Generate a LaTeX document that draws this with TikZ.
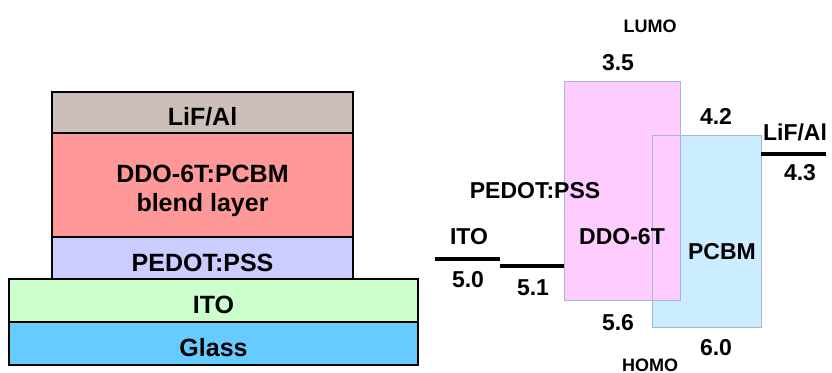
\documentclass[tikz,border=0pt]{standalone}
\usepackage{fontspec}
\setmainfont{Liberation Sans}
\usetikzlibrary{positioning}
\definecolor{lifgray}{RGB}{204,191,186}
\definecolor{blendred}{RGB}{255,153,153}
\definecolor{pedotblue}{RGB}{204,204,255}
\definecolor{itogreen}{RGB}{204,255,204}
\definecolor{glassblue}{RGB}{102,204,255}
\definecolor{ddopink}{RGB}{255,204,255}
\definecolor{pcbmblue}{RGB}{204,236,255}
\definecolor{bandedge}{RGB}{160,185,215}
\tikzset{
  layer/.style={draw=black,line width=1.5pt,fill=#1,inner sep=0pt,outer sep=0pt,
    minimum width=301pt,align=center,font=\fontsize{25}{29}\selectfont\bfseries,
    execute at begin node={\rule{0pt}{27pt}}},
  band/.style={draw=bandedge,line width=1pt,fill=#1,inner sep=0pt,outer sep=0pt},
  level/.style={line width=4pt},
  lbl/.style={font=\fontsize{23}{27}\selectfont\bfseries},
  orb/.style={font=\fontsize{18}{21}\selectfont\bfseries},
}

\begin{document}
\begin{tikzpicture}[x=1pt,y=-1pt]
  \useasboundingbox (0,0) rectangle (832,372);
  % device stack
  \node[layer=lifgray,minimum height=41pt] (lif) at (202.5,112.5) {LiF/Al};
  \node[layer=blendred,minimum height=104pt,below=0pt of lif,execute at begin node={}] (blend)
    {\raisebox{-6pt}[\height][\depth]{\begin{tabular}{@{}c@{}}DDO-6T:PCBM\\blend layer\end{tabular}}};
  \node[layer=pedotblue,minimum height=42pt,below=0pt of blend] (pedot) {PEDOT:PSS};
  \node[layer=itogreen,minimum width=409pt,minimum height=43pt,anchor=north] (ito) at (213.5,279) {ITO};
  \node[layer=glassblue,minimum width=409pt,minimum height=43pt,below=0pt of ito] (glass) {Glass};

  % energy levels
  \node[band=pcbmblue,minimum width=109pt,minimum height=192pt] (pcbm) at (706.5,231) {};
  \node[band=ddopink,minimum width=116pt,minimum height=219pt] (ddo) at (622,190.5) {};
  \draw[bandedge,line width=1pt] (pcbm.north west) rectangle (pcbm.south east);
  \node[lbl] (ddolbl) at (622,237) {DDO-6T};
  \node[lbl] (pcbmlbl) at (722,252) {PCBM};

  \coordinate (itoL) at (435,259);
  \coordinate (itoR) at (500,259);
  \coordinate (pedL) at (500,266);
  \coordinate (lifR) at (826,154);
  \draw[level] (itoL) -- (itoR);
  \draw[level] (pedL) -- (pedL -| ddo.west);
  \draw[level] (lifR -| pcbm.east) -- (lifR);

  \node[orb] (lumo) at (650,26) {LUMO};
  \node[orb] (homo) at (650,365) {HOMO};
  \node[lbl] (e35) at (618,63) {3.5};
  \node[lbl] (e42) at (716,116) {4.2};
  \node[lbl] (e56) at (618,323) {5.6};
  \node[lbl] (e60) at (716,348) {6.0};
  \node[lbl] (e50) at (468,280) {5.0};
  \node[lbl] (e51) at (533,288) {5.1};
  \node[lbl] (e43) at (800,173) {4.3};
  \node[lbl] (itolbl) at (469,237) {ITO};
  \node[lbl] (pedlbl) at (535,191) {PEDOT:PSS};
  \node[lbl] (liflbl) at (795,132) {LiF/Al};
\end{tikzpicture}
\end{document}
